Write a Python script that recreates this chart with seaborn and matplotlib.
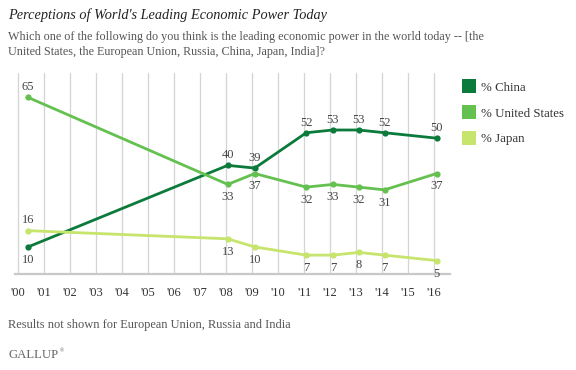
import seaborn as sns
import matplotlib.pyplot as plt
import pandas as pd
from matplotlib.lines import Line2D

# survey dates (fraction of year) and results
years = [2000.38, 2008.06, 2009.10, 2011.08, 2012.10, 2013.10, 2014.09, 2016.09]
china = [10, 40, 39, 52, 53, 53, 52, 50]
usa = [65, 33, 37, 32, 33, 32, 31, 37]
japan = [16, 13, 10, 7, 7, 8, 7, 5]
series = ["% China", "% United States", "% Japan"]
tick_years = list(range(2000, 2017))
tick_labels = ["'%02d" % (y % 100) for y in tick_years]

# label placement: +1 above point, -1 below
china_pos = [-1, 1, 1, 1, 1, 1, 1, 1]
usa_pos = [1, -1, -1, -1, -1, -1, -1, -1]
japan_pos = [1, -1, -1, -1, -1, -1, -1, -1]

colors = {"% China": "#0b7a3b", "% United States": "#64c150", "% Japan": "#c7e46c"}

df = pd.concat([
    pd.DataFrame({"year": years, "pct": china, "series": series[0]}),
    pd.DataFrame({"year": years, "pct": usa, "series": series[1]}),
    pd.DataFrame({"year": years, "pct": japan, "series": series[2]}),
])

sns.set_theme(style="white")
plt.rcParams['font.family'] = ['Liberation Serif', 'DejaVu Serif']

fig = plt.figure(figsize=(5.76, 3.70), dpi=100)
ax = fig.add_axes([0.026, 0.259, 0.755, 0.544])

for y in tick_years:
    ax.axvline(y, color="#d4d4d4", lw=0.9, zorder=0)

sns.lineplot(data=df, x="year", y="pct", hue="series", palette=colors,
             hue_order=series, marker="o", markersize=4.5, markeredgewidth=0,
             linewidth=2.0, legend=False, ax=ax, sort=False)

for vals, pos in [(china, china_pos), (usa, usa_pos), (japan, japan_pos)]:
    for x, v, p in zip(years, vals, pos):
        ax.annotate(str(v), (x, v), xytext=(0, 3 * p if p > 0 else -5),
                    textcoords="offset points",
                    ha="center", va="bottom" if p > 0 else "top",
                    fontsize=9, color="#444444")

ax.set_xlim(1999.88, 2016.6)
ax.set_ylim(0, 74)
ax.set_xticks(tick_years)
ax.set_xticklabels(tick_labels, fontsize=9, color="#333333")
ax.set_yticks([])
ax.set_xlabel("")
ax.set_ylabel("")
ax.tick_params(axis="x", length=0, pad=9)
for s in ["top", "left", "right"]:
    ax.spines[s].set_visible(False)
ax.spines["bottom"].set_color("#c8c8c8")
ax.spines["bottom"].set_linewidth(1.6)

handles = [Line2D([0], [0], marker="s", color="w", markerfacecolor=colors[s],
                  markersize=9.5, markeredgewidth=0, linestyle="") for s in series]
fig.legend(handles, series, loc="upper left", bbox_to_anchor=(0.782, 0.81),
           frameon=False, fontsize=9.3, labelspacing=1.05, handletextpad=0.45,
           handlelength=1.0, labelcolor="#333333")

fig.text(0.014, 0.96, "Perceptions of World's Leading Economic Power Today",
         fontsize=10.3, style="italic", color="#222222", va="center")
fig.text(0.014, 0.90, "Which one of the following do you think is the leading economic power in the world today -- [the",
         fontsize=8.7, color="#555555", va="center")
fig.text(0.014, 0.86, "United States, the European Union, Russia, China, Japan, India]?",
         fontsize=8.7, color="#555555", va="center")
fig.text(0.014, 0.122, "Results not shown for European Union, Russia and India",
         fontsize=8.9, color="#555555", va="center")
fig.text(0.014, 0.040, "GALLUP", fontsize=9.2, color="#666666", va="center")
fig.text(0.103, 0.052, "\u00ae", fontsize=4, color="#666666", va="center")

fig.savefig("out.png", dpi=100)
